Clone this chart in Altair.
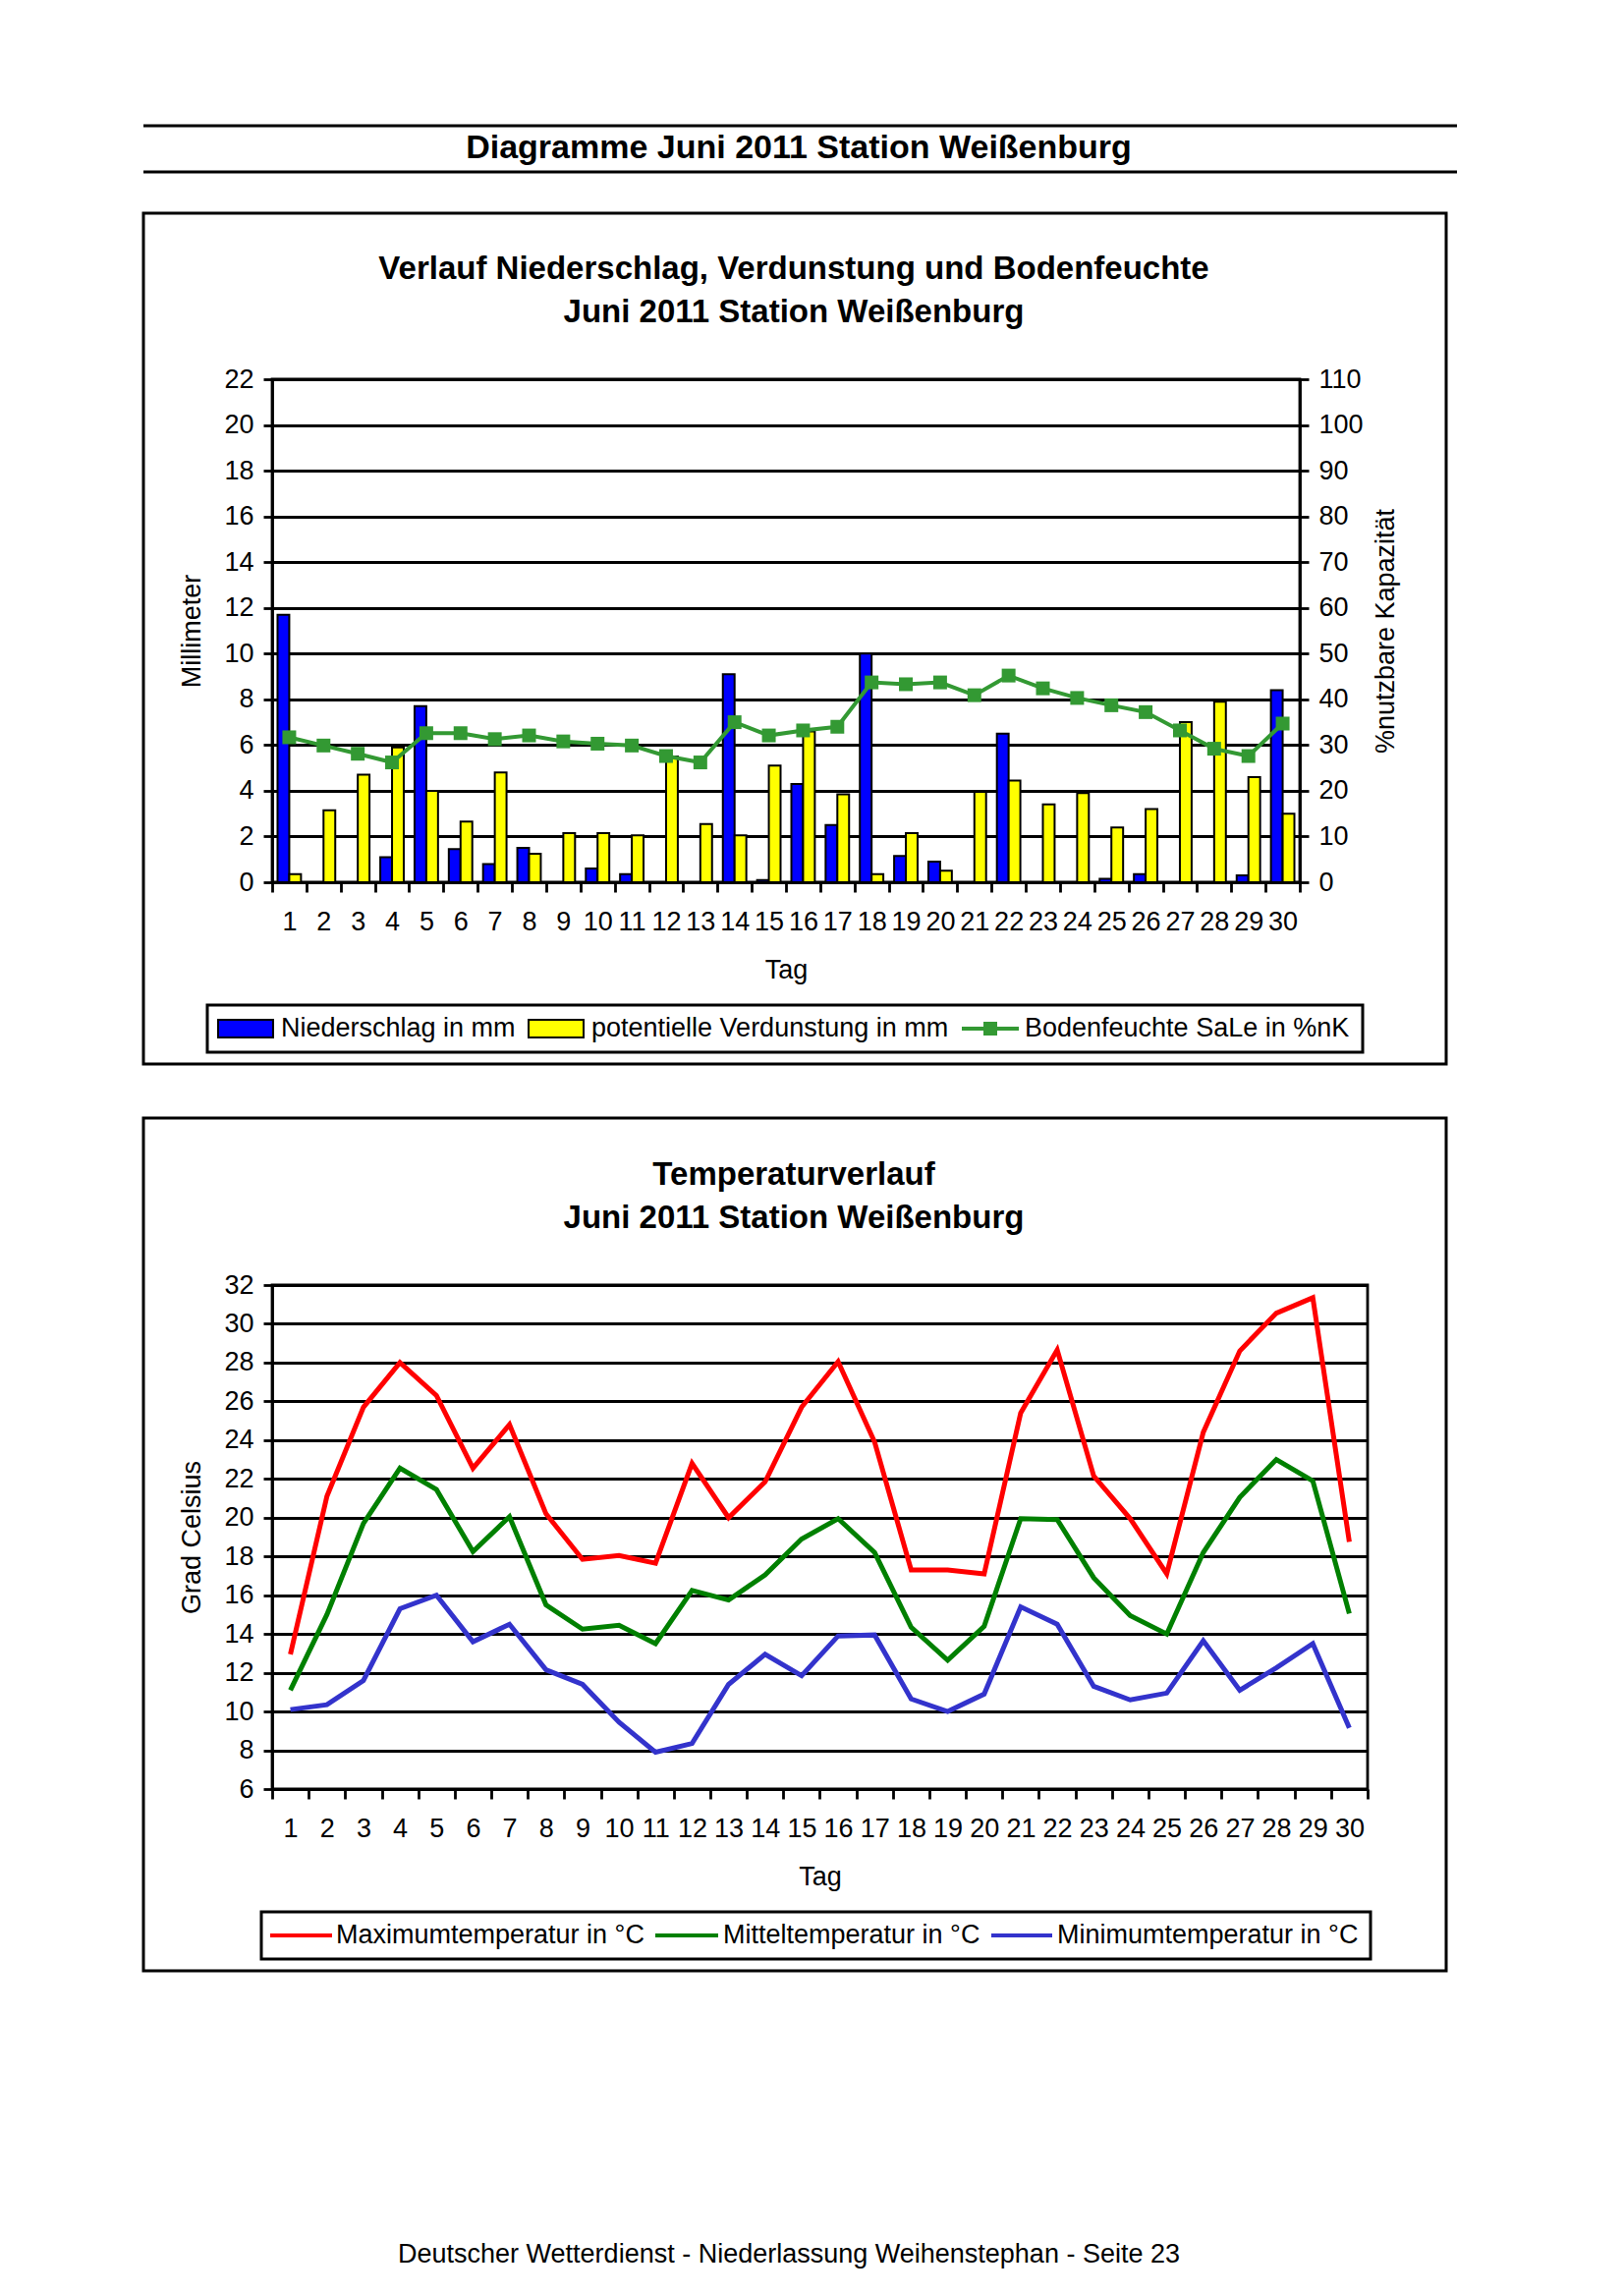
import altair as alt
import pandas as pd

FONT = "Liberation Sans"

# ---------------- data ----------------
days = list(range(1, 31))

niederschlag = [11.7, 0, 0, 1.1, 7.7, 1.45, 0.8, 1.5, 0, 0.6,
                0.35, 0, 0, 9.1, 0.1, 4.3, 2.5, 10.0, 1.15, 0.9,
                0, 6.5, 0, 0, 0.15, 0.35, 0, 0, 0.3, 8.4]
verdunstung = [0.35, 3.15, 4.7, 5.9, 4.0, 2.65, 4.8, 1.25, 2.15, 2.15,
               2.05, 5.5, 2.55, 2.05, 5.1, 6.6, 3.85, 0.35, 2.15, 0.5,
               3.95, 4.45, 3.4, 3.9, 2.4, 3.2, 7.0, 7.9, 4.6, 3.0]
bodenfeuchte = [31.7, 29.9, 28.1, 26.2, 32.6, 32.6, 31.3, 32.1, 30.8, 30.3,
                29.9, 27.6, 26.2, 35.0, 32.1, 33.2, 34.0, 43.7, 43.3, 43.7,
                40.9, 45.2, 42.4, 40.3, 38.7, 37.2, 33.2, 29.2, 27.6, 34.7]

tmax = [12.95, 21.1, 25.7, 28.0, 26.3, 22.55, 24.8, 20.2, 17.85, 18.05,
        17.65, 22.8, 20.0, 21.85, 25.7, 28.05, 23.9, 17.3, 17.3, 17.1,
        25.4, 28.65, 22.15, 19.95, 17.1, 24.4, 28.6, 30.55, 31.35, 18.75]
tmean = [11.1, 15.0, 19.7, 22.55, 21.45, 18.25, 20.05, 15.5, 14.25, 14.45,
         13.5, 16.25, 15.75, 17.05, 18.9, 19.95, 18.2, 14.35, 12.65, 14.4,
         19.95, 19.9, 16.9, 14.95, 14.0, 18.2, 21.05, 23.0, 21.9, 15.05]
tmin = [10.1, 10.35, 11.6, 15.3, 16.0, 13.6, 14.5, 12.15, 11.4, 9.45,
        7.9, 8.35, 11.4, 12.95, 11.85, 13.9, 13.95, 10.65, 10.0, 10.9,
        15.4, 14.5, 11.3, 10.6, 10.95, 13.65, 11.1, 12.25, 13.5, 9.15]

bar_series = ["Niederschlag in mm", "potentielle Verdunstung in mm"]
bar_colors = ["#0000FF", "#FFFF00"]
soil_label = "Bodenfeuchte SaLe in %nK"
soil_color = "#339933"
temp_series = ["Maximumtemperatur in °C", "Mitteltemperatur in °C", "Minimumtemperatur in °C"]
temp_colors = ["#FF0000", "#008000", "#3333CC"]

header_text = "Diagramme Juni 2011 Station Weißenburg"
title1 = ["Verlauf Niederschlag, Verdunstung und Bodenfeuchte", "Juni 2011 Station Weißenburg"]
title2 = ["Temperaturverlauf", "Juni 2011 Station Weißenburg"]
footer_text = "Deutscher Wetterdienst - Niederlassung Weihenstephan - Seite 23"

# ---------------- tables ----------------
df_bars = pd.DataFrame({
    "Tag": days * 2,
    "Reihe": [bar_series[0]] * 30 + [bar_series[1]] * 30,
    "mm": niederschlag + verdunstung,
})
df_soil = pd.DataFrame({"Tag": days, "Bodenfeuchte": bodenfeuchte})
df_temp = pd.DataFrame({
    "Tag": days * 3,
    "Serie": [temp_series[0]] * 30 + [temp_series[1]] * 30 + [temp_series[2]] * 30,
    "Temperatur": tmax + tmean + tmin,
})

one = alt.Data(values=[{"d": 0}])

W1, H1 = 1046, 512
W2, H2 = 1115, 513
LW = 2.8


def txt(s, x, y, size=27, bold=False, align="center"):
    return alt.Chart(one).mark_text(
        text=s, font=FONT, fontSize=size, fontWeight="bold" if bold else "normal",
        align=align, baseline="middle", color="black"
    ).encode(x=alt.value(x), y=alt.value(y))


def frame(x1, x2, y1, y2, sw=3):
    return alt.Chart(one).mark_rect(
        fill="white", fillOpacity=0, stroke="black", strokeWidth=sw
    ).encode(x=alt.value(x1), x2=alt.value(x2), y=alt.value(y1), y2=alt.value(y2))


def hline(x1, x2, y, color="black", sw=3):
    return alt.Chart(one).mark_rule(color=color, strokeWidth=sw).encode(
        x=alt.value(x1), x2=alt.value(x2), y=alt.value(y))


def swatch(x1, x2, y1, y2, color):
    return alt.Chart(one).mark_rect(
        fill=color, stroke="black", strokeWidth=2
    ).encode(x=alt.value(x1), x2=alt.value(x2), y=alt.value(y1), y2=alt.value(y2))


def x_axis():
    return alt.Axis(title="Tag", labelAngle=0, tickBand="extent", labelOverlap=False,
                    tickSize=10, labelPadding=17, titlePadding=23, grid=False)


xscale = alt.Scale(type="band", paddingInner=0, paddingOuter=0)

# ---------------- chart 1 ----------------
bars = alt.Chart(df_bars).mark_bar(stroke="black", strokeWidth=2).encode(
    x=alt.X("Tag:O", scale=xscale, axis=x_axis()),
    xOffset=alt.XOffset("Reihe:N", scale=alt.Scale(domain=bar_series, paddingOuter=0.46, paddingInner=0)),
    y=alt.Y("mm:Q", scale=alt.Scale(domain=[0, 22], nice=False),
            axis=alt.Axis(title="Millimeter", values=list(range(0, 23, 2)), grid=True,
                          tickSize=9, labelPadding=10, titlePadding=18)),
    color=alt.Color("Reihe:N", scale=alt.Scale(domain=bar_series, range=bar_colors), legend=None),
)

soil = alt.Chart(df_soil).mark_line(
    color=soil_color, strokeWidth=4,
    point=alt.OverlayMarkDef(shape="square", size=196, filled=True, color=soil_color, opacity=1),
).encode(
    x=alt.X("Tag:O", scale=xscale, bandPosition=0.5, axis=x_axis()),
    y=alt.Y("Bodenfeuchte:Q", scale=alt.Scale(domain=[0, 110], nice=False),
            axis=alt.Axis(orient="right", title="%nutzbare Kapazität", values=list(range(0, 111, 10)),
                          grid=False, tickSize=9, labelPadding=10, titlePadding=10,
                          titleAngle=270, titleBaseline="top")),
)

deco1 = [
    frame(-131, 1195, -169, 697),
    hline(-131, 1206, -258),
    hline(-131, 1206, -211),
    txt(header_text, 536, -235, size=34, bold=True),
    txt(title1[0], 531, -112, size=33, bold=True),
    txt(title1[1], 531, -68, size=33, bold=True),
    frame(-66, 1110, 637, 685, sw=3),
    swatch(-55, 1, 652, 670, bar_colors[0]),
    txt(bar_series[0], 9, 661, align="left"),
    swatch(261, 317, 652, 670, bar_colors[1]),
    txt(bar_series[1], 325, 661, align="left"),
    hline(702, 760, 661, color=soil_color, sw=4),
    alt.Chart(one).mark_square(size=196, color=soil_color, opacity=1).encode(
        x=alt.value(731), y=alt.value(661)),
    txt(soil_label, 766, 661, align="left"),
]

chart1 = alt.layer(bars, soil, *deco1).resolve_scale(y="independent").properties(width=W1, height=H1)

# ---------------- chart 2 ----------------
temps = alt.Chart(df_temp).mark_line(strokeWidth=5).encode(
    x=alt.X("Tag:O", scale=xscale, bandPosition=0.5, axis=x_axis()),
    y=alt.Y("Temperatur:Q", scale=alt.Scale(domain=[6, 32], nice=False),
            axis=alt.Axis(title="Grad Celsius", values=list(range(6, 33, 2)), grid=True,
                          tickSize=9, labelPadding=10, titlePadding=18)),
    color=alt.Color("Serie:N", scale=alt.Scale(domain=temp_series, range=temp_colors), legend=None),
    detail="Serie:N",
)

deco2 = [
    frame(-131, 1195, -170, 698),
    txt(title2[0], 531, -112, size=33, bold=True),
    txt(title2[1], 531, -68, size=33, bold=True),
    frame(-11, 1118, 638, 686, sw=3),
    hline(-2, 61, 662, color=temp_colors[0], sw=4),
    txt(temp_series[0], 65, 662, align="left"),
    hline(390, 454, 662, color=temp_colors[1], sw=4),
    txt(temp_series[1], 459, 662, align="left"),
    hline(732, 794, 662, color=temp_colors[2], sw=4),
    txt(temp_series[2], 799, 662, align="left"),
    txt(footer_text, 526, 987),
]

chart2 = alt.layer(temps, *deco2).properties(width=W2, height=H2)

chart = alt.vconcat(chart1, chart2, spacing=49).resolve_scale(
    color="independent", x="independent", y="independent"
).properties(
    padding={"left": 135, "top": 117, "right": 5, "bottom": 5},
    background="white",
).configure_view(
    stroke="black", strokeWidth=LW
).configure_axis(
    labelFont=FONT, labelFontSize=27, labelColor="black",
    titleFont=FONT, titleFontSize=27, titleFontWeight="normal", titleColor="black",
    tickColor="black", tickWidth=LW, domainColor="black", domainWidth=LW,
    gridColor="black", gridWidth=LW, gridOpacity=1,
)

chart.save("out.html", embed_options={"renderer": "svg", "actions": False})
